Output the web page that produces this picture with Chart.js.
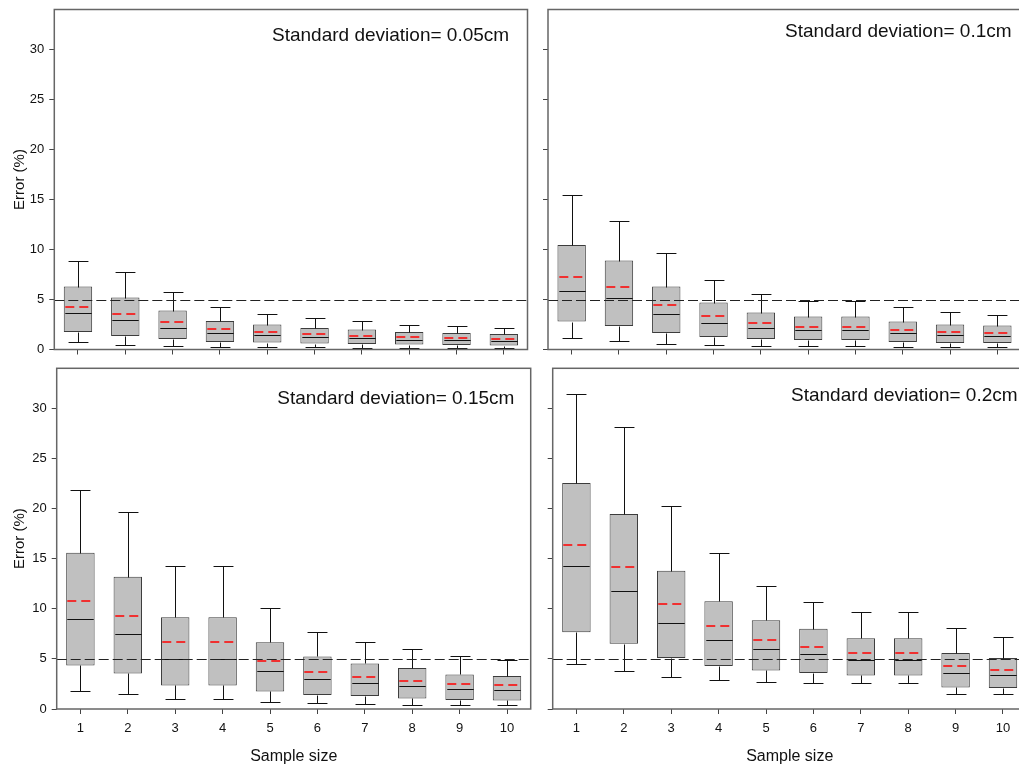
<!DOCTYPE html>
<html lang="en">
<head>
<meta charset="UTF-8">
<title>Error vs sample size</title>
<script src="https://cdn.jsdelivr.net/npm/chart.js"></script>
<style>
  html, body { margin: 0; padding: 0; background: #fff; overflow: hidden; }
  #wrap { position: relative; width: 1019px; height: 766px; overflow: hidden; }
  canvas { position: absolute; }
</style>
</head>
<body>
<div id="wrap">
  <canvas id="c1" width="540" height="362" style="left:0;top:0"></canvas>
  <canvas id="c2" width="495" height="362" style="left:535px;top:0"></canvas>
  <canvas id="c3" width="540" height="404" style="left:0;top:362px"></canvas>
  <canvas id="c4" width="495" height="404" style="left:535px;top:362px"></canvas>
</div>

<script>
// categories
const sampleSizes = ['1', '2', '3', '4', '5', '6', '7', '8', '9', '10'];
const yTicks = [0, 5, 10, 15, 20, 25, 30];
const targetError = 5;

// SD = 0.05 cm
const hi05   = [8.9, 7.8, 5.75, 4.3, 3.55, 3.2, 2.9, 2.5, 2.4, 2.2];
const q3_05  = [6.3, 5.2, 3.9, 2.85, 2.5, 2.15, 2.0, 1.75, 1.65, 1.55];
const mean05 = [4.3, 3.6, 2.75, 2.05, 1.75, 1.55, 1.35, 1.25, 1.15, 1.1];
const med05  = [3.65, 2.95, 2.2, 1.65, 1.45, 1.3, 1.15, 1.0, 0.95, 0.85];
const q1_05  = [1.75, 1.35, 1.05, 0.75, 0.7, 0.6, 0.55, 0.5, 0.45, 0.4];
const lo05   = [0.75, 0.5, 0.4, 0.3, 0.25, 0.25, 0.2, 0.2, 0.15, 0.15];

// SD = 0.1 cm
const hi10   = [15.5, 12.9, 9.65, 6.95, 5.6, 4.85, 4.85, 4.3, 3.8, 3.5];
const q3_10  = [10.45, 8.9, 6.3, 4.7, 3.7, 3.3, 3.3, 2.8, 2.5, 2.4];
const mean10 = [7.3, 6.25, 4.5, 3.35, 2.65, 2.3, 2.3, 2.0, 1.8, 1.65];
const med10  = [5.9, 5.2, 3.6, 2.7, 2.15, 1.95, 1.95, 1.65, 1.5, 1.35];
const q1_10  = [2.8, 2.35, 1.65, 1.25, 1.05, 0.95, 0.95, 0.75, 0.65, 0.65];
const lo10   = [1.15, 0.85, 0.6, 0.45, 0.35, 0.35, 0.35, 0.25, 0.25, 0.25];

// SD = 0.15 cm
const hi15   = [21.9, 19.7, 14.3, 14.3, 10.05, 7.65, 6.65, 6.0, 5.25, 4.9];
const q3_15  = [15.6, 13.2, 9.15, 9.15, 6.65, 5.25, 4.55, 4.1, 3.45, 3.3];
const mean15 = [10.8, 9.25, 6.65, 6.65, 4.8, 3.65, 3.2, 2.8, 2.5, 2.35];
const med15  = [9.0, 7.45, 5.0, 5.0, 3.75, 2.95, 2.6, 2.3, 1.95, 1.9];
const q1_15  = [4.35, 3.55, 2.35, 2.35, 1.75, 1.4, 1.3, 1.05, 0.9, 0.85];
const lo15   = [1.75, 1.45, 0.95, 0.95, 0.65, 0.55, 0.45, 0.4, 0.4, 0.35];

// SD = 0.2 cm
const hi20   = [31.4, 28.1, 20.25, 15.6, 12.25, 10.7, 9.65, 9.65, 8.05, 7.15];
const q3_20  = [22.55, 19.45, 13.8, 10.75, 8.85, 8.0, 7.05, 7.05, 5.6, 5.1];
const mean20 = [16.35, 14.2, 10.45, 8.3, 6.85, 6.2, 5.6, 5.6, 4.3, 3.9];
const med20  = [14.3, 11.75, 8.55, 6.85, 6.0, 5.45, 4.9, 4.9, 3.55, 3.35];
const q1_20  = [7.65, 6.5, 5.1, 4.3, 3.85, 3.6, 3.35, 3.35, 2.15, 2.1];
const lo20   = [4.5, 3.8, 3.2, 2.9, 2.7, 2.6, 2.55, 2.55, 1.5, 1.45];

const FONT = '"Liberation Sans", Arial, sans-serif';

// whiskers, caps, medians, means, 5% line, frame and label
const boxExtras = {
  id: 'boxExtras',
  afterDatasetsDraw(chart, args, opts) {
    const { ctx, chartArea: a, scales: { x, y } } = chart;
    const p = opts.panel;
    const step = x.getPixelForValue(1) - x.getPixelForValue(0);
    const half = step * 0.6 / 2;
    const cap = step * 0.42 / 2;
    const py = v => Math.round(y.getPixelForValue(v)) + 0.5;

    ctx.save();
    ctx.lineWidth = 1;
    ctx.strokeStyle = '#111';
    ctx.beginPath();
    p.lo.forEach((lo, i) => {
      const cx = Math.round(x.getPixelForValue(i)) + 0.5;
      ctx.moveTo(cx, py(p.hi[i])); ctx.lineTo(cx, py(p.q3[i]));
      ctx.moveTo(cx, py(p.q1[i])); ctx.lineTo(cx, py(lo));
      ctx.moveTo(cx - cap, py(p.hi[i])); ctx.lineTo(cx + cap, py(p.hi[i]));
      ctx.moveTo(cx - cap, py(lo)); ctx.lineTo(cx + cap, py(lo));
      ctx.moveTo(cx - half + 1, py(p.med[i])); ctx.lineTo(cx + half - 1, py(p.med[i]));
    });
    ctx.stroke();

    // means: red dashed, a bit heavier so the colour survives
    ctx.strokeStyle = '#ff0000';
    ctx.lineWidth = 1.5;
    ctx.setLineDash([9, 5]);
    p.mean.forEach((m, i) => {
      const cx = Math.round(x.getPixelForValue(i)) + 0.5;
      const my = Math.round(y.getPixelForValue(m));
      ctx.beginPath();
      ctx.moveTo(cx - half + 1, my);
      ctx.lineTo(cx + half - 1, my);
      ctx.stroke();
    });

    // 5 % reference line
    ctx.lineWidth = 1;
    ctx.strokeStyle = '#222';
    ctx.setLineDash([10, 4]);
    ctx.beginPath();
    ctx.moveTo(a.left, py(targetError));
    ctx.lineTo(a.right, py(targetError));
    ctx.stroke();

    // frame
    ctx.setLineDash([]);
    ctx.strokeStyle = '#666';
    ctx.lineWidth = 1.5;
    ctx.strokeRect(a.left, a.top, a.right - a.left, a.bottom - a.top);

    // panel label
    ctx.fillStyle = '#111';
    ctx.font = '19px ' + FONT;
    ctx.textBaseline = 'middle';
    ctx.textAlign = 'left';
    ctx.fillText(p.label, p.textAt[0], p.textAt[1]);
    ctx.restore();
  }
};

function makeChart(p) {
  return new Chart(document.getElementById(p.id), {
    type: 'bar',
    data: {
      labels: sampleSizes,
      datasets: [{
        data: p.q1.map((v, i) => [v, p.q3[i]]),
        backgroundColor: '#c0c0c0',
        borderColor: '#3c3c3c',
        borderWidth: 1,
        borderSkipped: false,
        barPercentage: 0.6,
        categoryPercentage: 1
      }]
    },
    options: {
      responsive: false,
      animation: false,
      events: [],
      layout: { padding: p.pad },
      plugins: {
        legend: { display: false },
        tooltip: { enabled: false },
        boxExtras: { panel: p }
      },
      scales: {
        x: {
          grid: { display: true, drawOnChartArea: false, offset: false, tickLength: 5, color: '#444' },
          border: { display: false },
          ticks: { display: p.xLabels, color: '#111', padding: 7, font: { family: FONT, size: 13 } },
          title: {
            display: p.xLabels, text: 'Sample size', color: '#111',
            font: { family: FONT, size: 16 }, padding: { top: 0, bottom: 0 }
          },
          afterFit: s => {
            s.height = p.xh;
            s.paddingLeft = 0;
            s.paddingRight = 0;
          }
        },
        y: {
          min: 0,
          max: 34,
          grid: { display: true, drawOnChartArea: false, tickLength: 5, color: '#444' },
          border: { display: false },
          ticks: { display: p.yLabels, stepSize: 5, color: '#111', padding: 5, font: { family: FONT, size: 13 } },
          afterBuildTicks: s => { s.ticks = s.ticks.filter(t => yTicks.includes(t.value)); },
          title: {
            display: p.yLabels, text: 'Error (%)', color: '#111',
            font: { family: FONT, size: 15 }, padding: { top: 10.5, bottom: 0 }
          },
          afterFit: s => {
            s.width = p.yw;
            s.paddingTop = 0;
            s.paddingBottom = 0;
          }
        }
      }
    },
    plugins: [boxExtras]
  });
}

const panels = [
  { id: 'c1', hi: hi05, q3: q3_05, mean: mean05, med: med05, q1: q1_05, lo: lo05,
    label: 'Standard deviation= 0.05cm', textAt: [272, 35.7],
    pad: { left: 0, top: 9.5, right: 12.5, bottom: 0 }, yw: 54.3, xh: 12.5, yLabels: true, xLabels: false },
  { id: 'c2', hi: hi10, q3: q3_10, mean: mean10, med: med10, q1: q1_10, lo: lo10,
    label: 'Standard deviation= 0.1cm', textAt: [250, 31.7],
    pad: { left: 0, top: 9.5, right: 9, bottom: 0 }, yw: 13, xh: 12.5, yLabels: false, xLabels: false },
  { id: 'c3', hi: hi15, q3: q3_15, mean: mean15, med: med15, q1: q1_15, lo: lo15,
    label: 'Standard deviation= 0.15cm', textAt: [277.3, 36.3],
    pad: { left: 0, top: 6.3, right: 9.3, bottom: 0 }, yw: 56.7, xh: 57, yLabels: true, xLabels: true },
  { id: 'c4', hi: hi20, q3: q3_20, mean: mean20, med: med20, q1: q1_20, lo: lo20,
    label: 'Standard deviation= 0.2cm', textAt: [256, 33.7],
    pad: { left: 0, top: 6.3, right: 3.3, bottom: 0 }, yw: 17.7, xh: 57, yLabels: false, xLabels: true }
];

panels.forEach(makeChart);
</script>
</body>
</html>
